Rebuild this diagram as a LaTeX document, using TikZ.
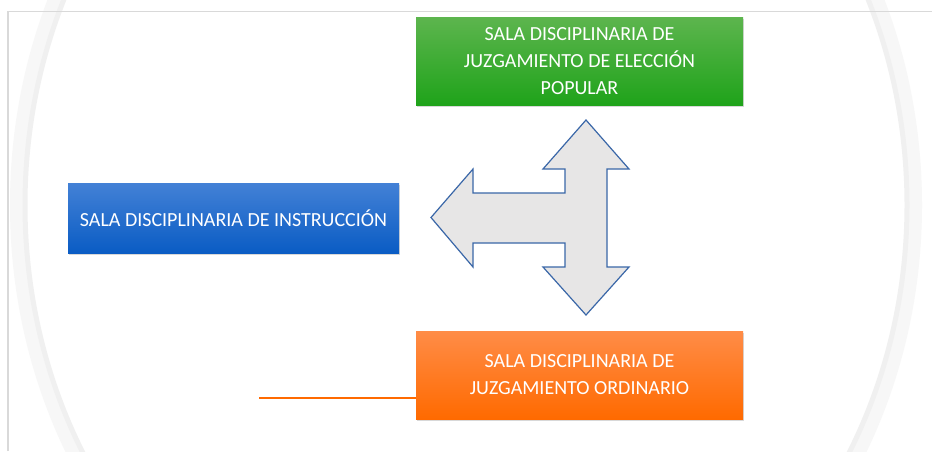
\documentclass[tikz,border=0pt]{standalone}
\usepackage{fontspec}
\setmainfont{Carlito}
\usetikzlibrary{shadows}

\definecolor{verdeA}{HTML}{5DB54E}
\definecolor{verdeB}{HTML}{1FA31A}
\definecolor{azulA}{HTML}{4381D6}
\definecolor{azulB}{HTML}{0A5CC4}
\definecolor{naranjaA}{HTML}{FF8C47}
\definecolor{naranjaB}{HTML}{FF6A00}
\definecolor{flechaborde}{HTML}{3A67A8}
\definecolor{flechafondo}{HTML}{E7E6E6}

\tikzset{
	sala/.style={rectangle, text=white, align=center, inner sep=0pt,
		font=\fontsize{20}{27}\selectfont,
		drop shadow={shadow xshift=1pt, shadow yshift=-2pt, opacity=0.3}},
}

\begin{document}
\begin{tikzpicture}[x=1pt,y=-1pt]
		\useasboundingbox (0,0) rectangle (932,451);
		\clip (0,0) rectangle (932,451);
		\fill[white] (0,0) rectangle (932,451);
		% fondo: anillo y marco
		\draw[gray!6, line width=16pt] (466,205) ellipse [x radius=448, y radius=508];
		\draw[gray!12, line width=5pt] (466,205) ellipse [x radius=441, y radius=500];
		\draw[gray!30, line width=1.5pt] (8,451) -- (8,11.5) -- (932,11.5);
		% salas
		\node[sala, top color=verdeA, bottom color=verdeB, minimum width=327, minimum height=88]
			(eleccion) at (579.5,61) {SALA DISCIPLINARIA DE\\JUZGAMIENTO DE ELECCIÓN\\POPULAR};
		\node[sala, top color=azulA, bottom color=azulB, minimum width=331, minimum height=70]
			(instruccion) at (233.5,218) {SALA DISCIPLINARIA DE INSTRUCCIÓN};
		\node[sala, top color=naranjaA, bottom color=naranjaB, minimum width=327, minimum height=88]
			(ordinario) at (579.5,375) {SALA DISCIPLINARIA DE\\JUZGAMIENTO ORDINARIO};
		% flecha de tres puntas
		\def\xl{473};
		\def\xi{565};
		\def\xd{607};
		\def\xc{586};
		\draw[fill=flechafondo, draw=flechaborde, line width=1.2pt, line join=miter]
			(431,217.5) -- (\xl,169) -- (\xl,193) -- (\xi,193) -- (\xi,169) -- (543,169)
			-- (\xc,120) -- (629,169) -- (\xd,169) -- (\xd,267) -- (629,267)
			-- (\xc,315) -- (543,267) -- (\xi,267) -- (\xi,243) -- (\xl,243)
			-- (\xl,267) -- cycle;
		% linea naranja
		\coordinate (L) at (259,398);
		\draw[naranjaB, line width=1.2pt] (L) -- (ordinario.west |- L);
	\end{tikzpicture}
\end{document}
